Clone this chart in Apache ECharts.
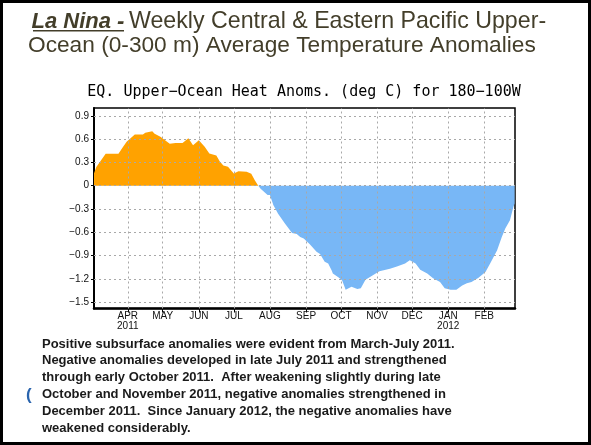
<!DOCTYPE html>
<html><head><meta charset="utf-8">
<script src="https://cdn.jsdelivr.net/npm/echarts@6/dist/echarts.min.js"></script>
<style>html,body{margin:0;padding:0;background:#fff}#c{width:591px;height:445px}</style>
</head><body><div id="c"></div>
<script>
// ---- data ----
const dates = ['2011-03-03','2011-03-05','2011-03-13','2011-03-24','2011-03-28','2011-03-31','2011-04-07','2011-04-14','2011-04-16','2011-04-22','2011-04-24','2011-04-29','2011-05-03','2011-05-07','2011-05-12','2011-05-18','2011-05-23','2011-05-27','2011-06-01','2011-06-06','2011-06-10','2011-06-16','2011-06-19','2011-06-22','2011-06-26','2011-07-01','2011-07-05','2011-07-12','2011-07-16','2011-07-19','2011-07-22','2011-07-24','2011-07-30','2011-08-01','2011-08-04','2011-08-08','2011-08-14','2011-08-20','2011-08-24','2011-08-27','2011-08-30','2011-09-04','2011-09-10','2011-09-13','2011-09-17','2011-09-20','2011-09-23','2011-09-24','2011-09-29','2011-10-02','2011-10-05','2011-10-10','2011-10-15','2011-10-18','2011-10-22','2011-10-28','2011-11-03','2011-11-12','2011-11-18','2011-11-25','2011-11-29','2011-12-04','2011-12-08','2011-12-14','2011-12-19','2011-12-25','2011-12-29','2012-01-03','2012-01-08','2012-01-13','2012-01-17','2012-01-21','2012-01-27','2012-02-02','2012-02-06','2012-02-12','2012-02-16','2012-02-19','2012-02-23','2012-02-26','2012-02-27'];
const anomalies = [0.16,0.24,0.41,0.41,0.50,0.565,0.66,0.66,0.68,0.70,0.67,0.63,0.585,0.54,0.55,0.55,0.61,0.52,0.586,0.50,0.415,0.39,0.31,0.26,0.245,0.156,0.186,0.18,0.155,0.07,0,-0.04,-0.12,-0.12,-0.25,-0.36,-0.49,-0.61,-0.62,-0.66,-0.68,-0.75,-0.85,-0.88,-0.98,-1.0,-1.09,-1.13,-1.18,-1.22,-1.34,-1.30,-1.33,-1.32,-1.21,-1.155,-1.10,-1.07,-1.04,-1.0,-0.96,-1.0,-1.08,-1.13,-1.19,-1.24,-1.32,-1.34,-1.34,-1.285,-1.255,-1.24,-1.185,-1.11,-1.0,-0.83,-0.66,-0.55,-0.445,-0.27,-0.23];
const monthTicks = ['2011-04-01','2011-05-01','2011-06-01','2011-07-01','2011-08-01','2011-09-01','2011-10-01','2011-11-01','2011-12-01','2012-01-01','2012-02-01'];
const monthLabels = ['APR\n2011','MAY','JUN','JUL','AUG','SEP','OCT','NOV','DEC','JAN\n2012','FEB'];
const yTicks = [-1.5,-1.2,-0.9,-0.6,-0.3,0,0.3,0.6,0.9];
const xRange = ['2011-03-03T00:00:00','2012-02-27T08:00:00'];
const yRange = [-1.58, 1.0];

const ts = s => new Date(s.length === 10 ? s + 'T00:00:00' : s).getTime();
const monthTs = monthTicks.map(ts);
const allData = dates.map((d, i) => [ts(d), anomalies[i]]);
const zeroIdx = anomalies.indexOf(0);
const posData = allData.slice(0, zeroIdx + 1);
const negData = allData.slice(zeroIdx);

const chart = echarts.init(document.getElementById('c'));
const gridDots = {type: [2, 3], color: '#a8a8a8', width: 1};
const areaSeries = (data, color) => ({type: 'line', data: data, showSymbol: false, symbol: 'none',
  lineStyle: {width: 0, color: color}, itemStyle: {color: color}, areaStyle: {opacity: 1, color: color, origin: 0}, z: 2});
chart.setOption({
  animation: false,
  backgroundColor: '#fff',
  grid: {left: 94, right: 76, top: 108, bottom: 136.5, show: true, borderColor: '#000', borderWidth: 1.5, backgroundColor: '#fff'},
  xAxis: {
    type: 'value', min: ts(xRange[0]), max: ts(xRange[1]),
    splitLine: {show: false},
    axisLine: {onZero: false, lineStyle: {color: '#000', width: 2.5}},
    axisTick: {customValues: monthTs, length: 4, lineStyle: {color: '#000'}},
    axisLabel: {customValues: monthTs, margin: 3, color: '#111', fontFamily: 'Liberation Sans', fontSize: 10, lineHeight: 10,
      formatter: v => { const i = monthTs.indexOf(v); return i >= 0 ? monthLabels[i] : ''; }}
  },
  yAxis: {
    type: 'value', min: yRange[0], max: yRange[1],
    splitLine: {show: false},
    axisLine: {show: true, onZero: false, lineStyle: {color: '#000', width: 2}},
    axisTick: {show: true, customValues: yTicks, length: 3, lineStyle: {color: '#000'}},
    axisLabel: {customValues: yTicks, margin: 5, color: '#111', fontFamily: 'Liberation Sans', fontSize: 10,
      formatter: v => v === 0 ? '0' : v.toFixed(1).replace('-', '\u2212')}
  },
  series: [
    areaSeries(posData, '#ffa200'),
    Object.assign(areaSeries(negData, '#78b7f6'), {
      markLine: {silent: true, symbol: ['none', 'none'], label: {show: false}, lineStyle: gridDots, animation: false,
        data: yTicks.map(v => ({yAxis: v})).concat(monthTs.map(t => ({xAxis: t})))}})
  ],
  graphic: [
    {type: 'rect', shape: {x: 1.5, y: 1.5, width: 588, height: 442}, style: {fill: 'none', stroke: '#000', lineWidth: 3}, z: 100},
    {type: 'text', x: 31.5, y: 21.5, style: {text: 'La Nina -', font: 'italic bold 22px "Liberation Sans"', fill: '#433e2a', verticalAlign: 'middle'}},
    {type: 'rect', shape: {x: 33, y: 30, width: 91, height: 1.6}, style: {fill: '#433e2a'}},
    {type: 'text', x: 129, y: 21.5, style: {text: 'Weekly Central & Eastern Pacific Upper-', font: '23.2px "Liberation Sans"', fill: '#433e2a', verticalAlign: 'middle'}},
    {type: 'text', x: 28, y: 45.5, style: {text: 'Ocean (0-300 m) Average Temperature Anomalies', font: '22.7px "Liberation Sans"', fill: '#433e2a', verticalAlign: 'middle'}},
    {type: 'text', x: 304, y: 92.5, style: {text: 'EQ. Upper\u2212Ocean Heat Anoms. (deg C) for 180\u2212100W', font: '15px "DejaVu Sans Mono"', fill: '#000', align: 'center', verticalAlign: 'middle'}},
    {type: 'text', x: 42, y: 335.5, style: {text: 'Positive subsurface anomalies were evident from March-July 2011.\nNegative anomalies developed in late July 2011 and strengthened\nthrough early October 2011.  After weakening slightly during late\nOctober and November 2011, negative anomalies strengthened in\nDecember 2011.  Since January 2012, the negative anomalies have\nweakened considerably.', font: 'bold 13px "Liberation Sans"', lineHeight: 16.9, fill: '#1a1a1a', verticalAlign: 'top'}},
    {type: 'text', x: 26, y: 395, style: {text: '(', font: 'bold 17px "Liberation Sans"', fill: '#2a64ad', verticalAlign: 'middle'}}
  ]
});
</script></body></html>
